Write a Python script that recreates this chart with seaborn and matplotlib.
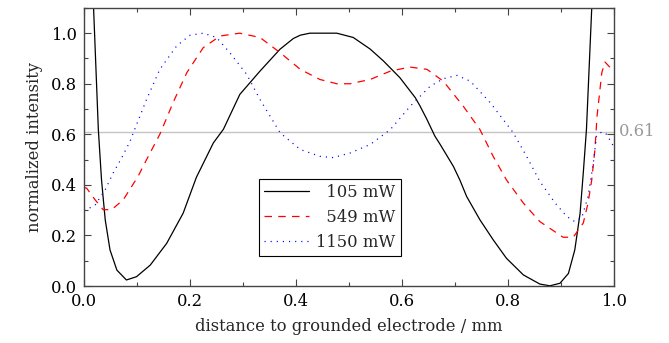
import numpy as np
import pandas as pd
import matplotlib
matplotlib.use("Agg")
import matplotlib.pyplot as plt
from matplotlib.ticker import MultipleLocator
import seaborn as sns

# 105 mW
x_105 = [0.012, 0.018, 0.027, 0.033, 0.040, 0.049, 0.062, 0.080, 0.099, 0.125, 0.156,
         0.187, 0.212, 0.244, 0.263, 0.294, 0.332, 0.370, 0.395, 0.408, 0.426, 0.452,
         0.477, 0.508, 0.540, 0.565, 0.596, 0.625, 0.634, 0.647, 0.662, 0.672, 0.697,
         0.709, 0.722, 0.747, 0.772, 0.797, 0.829, 0.860, 0.879, 0.898, 0.914, 0.926,
         0.936, 0.942, 0.948, 0.958, 0.962]
y_105 = [1.20, 1.10, 0.619, 0.420, 0.262, 0.143, 0.063, 0.024, 0.037, 0.083, 0.169,
         0.288, 0.430, 0.566, 0.620, 0.758, 0.850, 0.937, 0.979, 0.992, 1.000, 1.000,
         1.000, 0.983, 0.937, 0.890, 0.824, 0.745, 0.712, 0.659, 0.593, 0.560, 0.473,
         0.420, 0.354, 0.262, 0.183, 0.110, 0.044, 0.008, 0.001, 0.011, 0.050, 0.143,
         0.288, 0.447, 0.619, 1.10, 1.20]

# 549 mW
x_549 = [0.000, 0.005, 0.021, 0.036, 0.052, 0.074, 0.102, 0.118, 0.143, 0.169, 0.194,
         0.225, 0.257, 0.294, 0.332, 0.370, 0.408, 0.445, 0.477, 0.502, 0.540, 0.578,
         0.615, 0.647, 0.678, 0.716, 0.747, 0.772, 0.797, 0.829, 0.860, 0.904, 0.923,
         0.942, 0.951, 0.958, 0.964, 0.968, 0.977, 0.983, 0.999]
y_549 = [0.390, 0.387, 0.341, 0.302, 0.302, 0.341, 0.434, 0.500, 0.600, 0.730, 0.844,
         0.943, 0.989, 1.000, 0.983, 0.923, 0.857, 0.817, 0.800, 0.800, 0.817, 0.850,
         0.866, 0.857, 0.810, 0.710, 0.619, 0.513, 0.420, 0.328, 0.255, 0.193, 0.193,
         0.249, 0.328, 0.420, 0.540, 0.672, 0.844, 0.886, 0.850]

# 1150 mW
x_1150 = [0.000, 0.005, 0.021, 0.040, 0.055, 0.071, 0.087, 0.093, 0.118, 0.143, 0.175,
          0.200, 0.225, 0.250, 0.275, 0.307, 0.332, 0.370, 0.408, 0.445, 0.470, 0.502,
          0.540, 0.578, 0.615, 0.653, 0.678, 0.704, 0.729, 0.767, 0.810, 0.835, 0.860,
          0.889, 0.911, 0.926, 0.939, 0.951, 0.961, 0.967, 0.977, 0.986, 0.999]
y_1150 = [0.300, 0.302, 0.321, 0.381, 0.447, 0.507, 0.573, 0.606, 0.738, 0.857, 0.950,
          0.992, 1.000, 0.983, 0.923, 0.837, 0.738, 0.606, 0.540, 0.513, 0.508, 0.526,
          0.560, 0.619, 0.710, 0.790, 0.820, 0.833, 0.810, 0.724, 0.606, 0.513, 0.414,
          0.328, 0.275, 0.255, 0.269, 0.354, 0.487, 0.593, 0.610, 0.600, 0.553]

ref_level = 0.61

sns.set_style("ticks")
plt.rcParams['font.family'] = ['DejaVu Serif']
fs = 11.8

fig = plt.figure(figsize=(6.69, 3.43), dpi=100)
ax = fig.add_axes([0.1256, 0.166, 0.7922, 0.811])

ax.axhline(ref_level, color='#c4c4c4', lw=1.0, zorder=1)
ax.text(1.01, ref_level, f'{ref_level:.2f}', color='#999999', fontsize=fs,
        va='center', ha='left', transform=ax.get_yaxis_transform())

sns.lineplot(x=x_105, y=y_105, ax=ax, color='black', lw=0.9,
             label='\u2007105 mW', sort=False)
sns.lineplot(x=x_549, y=y_549, ax=ax, color='red', lw=0.9,
             label='\u2007549 mW', sort=False)
sns.lineplot(x=x_1150, y=y_1150, ax=ax, color='blue', lw=0.9,
             label='1150 mW', sort=False)
ax.lines[2].set_dashes([6, 5])
ax.lines[3].set_dashes([0.9, 4])

ax.set_xlim(0, 1.0)
ax.set_ylim(0, 1.1)
ax.xaxis.set_major_locator(MultipleLocator(0.2))
ax.xaxis.set_minor_locator(MultipleLocator(0.1))
ax.yaxis.set_major_locator(MultipleLocator(0.2))
ax.yaxis.set_minor_locator(MultipleLocator(0.1))
ax.xaxis.set_major_formatter(lambda v, p: f'{v:.1f}')
ax.yaxis.set_major_formatter(lambda v, p: f'{v:.1f}')
ax.tick_params(which='both', direction='in', top=True, right=True, colors='#444444',
               labelcolor='black', labelsize=fs, pad=5)
ax.tick_params(which='major', length=5, width=0.8)
ax.tick_params(which='minor', length=3, width=0.8)
for s in ax.spines.values():
    s.set_color('#444444')
    s.set_linewidth(1.0)

ax.set_xlabel('distance to grounded electrode / mm', fontsize=fs, labelpad=6)
ax.set_ylabel('normalized intensity', fontsize=fs, labelpad=6)

leg = ax.legend(loc='lower left', bbox_to_anchor=(0.330, 0.108), borderaxespad=0,
                frameon=True, fancybox=False, edgecolor='black', framealpha=1,
                fontsize=fs, handlelength=2.75, handletextpad=0.45,
                borderpad=0.3, labelspacing=0.5)
leg.get_frame().set_linewidth(0.8)

fig.savefig('out.png', dpi=100)
